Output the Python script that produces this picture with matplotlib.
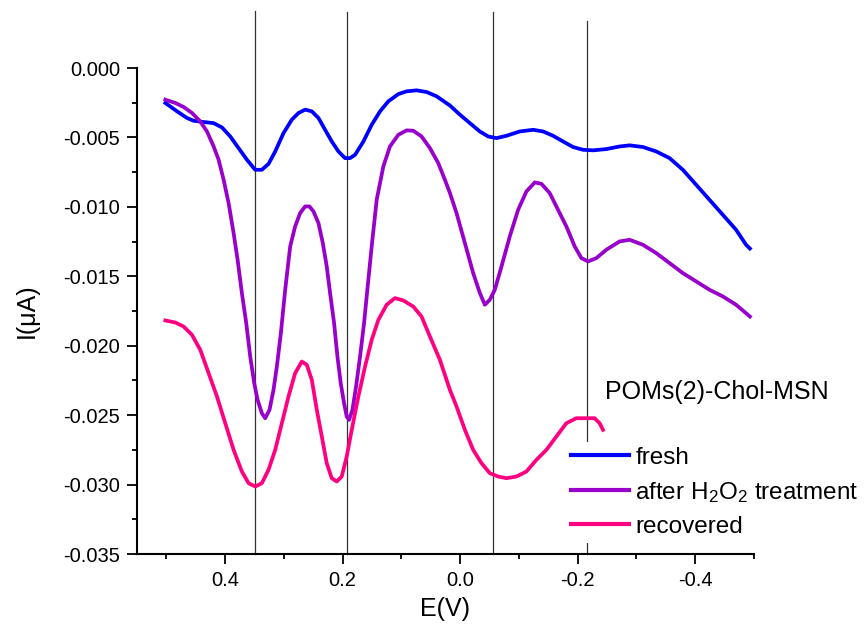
import matplotlib
matplotlib.use("Agg")
import matplotlib.pyplot as plt
from matplotlib.ticker import MultipleLocator, FormatStrFormatter

plt.rcParams['font.family'] = ['Liberation Sans', 'DejaVu Sans']
plt.rcParams['axes.unicode_minus'] = False
plt.rcParams['mathtext.fontset'] = 'custom'
plt.rcParams['mathtext.rm'] = 'Liberation Sans'
plt.rcParams['mathtext.it'] = 'Liberation Sans:italic'

# ---- data (E in V, I in uA) ----
fresh_E = [0.5017, 0.4819, 0.4649, 0.4536, 0.4366, 0.4196, 0.4054, 0.3913, 0.3771, 0.3629,
           0.3488, 0.3375, 0.3261, 0.3148, 0.3007, 0.2865, 0.2752, 0.2638, 0.2525, 0.2412,
           0.2299, 0.2185, 0.2072, 0.1959, 0.1874, 0.1789, 0.1647, 0.1506, 0.1364, 0.1223,
           0.1053, 0.0911, 0.0741, 0.0571, 0.0401, 0.0175, 0.0005, -0.0165, -0.0335, -0.0476,
           -0.0618, -0.0788, -0.1014, -0.1241, -0.1411, -0.1580, -0.1750, -0.1920, -0.2090, -0.2260,
           -0.2487, -0.2713, -0.2883, -0.3110, -0.3336, -0.3563, -0.3789, -0.4016, -0.4242, -0.4469,
           -0.4695, -0.4865, -0.4930]
fresh_I = [-0.00252, -0.00312, -0.00360, -0.00380, -0.00389, -0.00397, -0.00428, -0.00493, -0.00577, -0.00661,
           -0.00733, -0.00733, -0.00690, -0.00601, -0.00469, -0.00372, -0.00324, -0.00300, -0.00312, -0.00360,
           -0.00445, -0.00529, -0.00601, -0.00649, -0.00649, -0.00625, -0.00529, -0.00409, -0.00312, -0.00240,
           -0.00188, -0.00168, -0.00161, -0.00173, -0.00204, -0.00270, -0.00336, -0.00397, -0.00457, -0.00493,
           -0.00505, -0.00488, -0.00457, -0.00445, -0.00457, -0.00488, -0.00529, -0.00569, -0.00589, -0.00593,
           -0.00584, -0.00565, -0.00557, -0.00569, -0.00601, -0.00649, -0.00733, -0.00841, -0.00949, -0.01057,
           -0.01165, -0.01273, -0.01300]

h2o2_E = [0.5017, 0.4847, 0.4706, 0.4564, 0.4423, 0.4309, 0.4196, 0.4111, 0.4026, 0.3941,
          0.3856, 0.3788, 0.3715, 0.3641, 0.3573, 0.3505, 0.3448, 0.3375, 0.3318, 0.3245,
          0.3177, 0.3120, 0.3052, 0.2978, 0.2893, 0.2809, 0.2724, 0.2639, 0.2565, 0.2497,
          0.2412, 0.2338, 0.2271, 0.2214, 0.2146, 0.2089, 0.2033, 0.1976, 0.1931, 0.1891,
          0.1834, 0.1772, 0.1704, 0.1636, 0.1580, 0.1506, 0.1421, 0.1308, 0.1195, 0.1053,
          0.0911, 0.0798, 0.0657, 0.0515, 0.0373, 0.0260, 0.0175, 0.0062, -0.0080, -0.0221,
          -0.0335, -0.0420, -0.0504, -0.0589, -0.0703, -0.0844, -0.0986, -0.1127, -0.1269, -0.1382,
          -0.1524, -0.1665, -0.1807, -0.1949, -0.2062, -0.2175, -0.2317, -0.2487, -0.2713, -0.2883,
          -0.3109, -0.3336, -0.3563, -0.3789, -0.4016, -0.4242, -0.4469, -0.4695, -0.4865, -0.4930]
h2o2_I = [-0.00228, -0.00252, -0.00281, -0.00324, -0.00385, -0.00457, -0.00565, -0.00661, -0.00805, -0.00973,
          -0.01189, -0.01381, -0.01621, -0.01837, -0.02078, -0.02270, -0.02390, -0.02486, -0.02522, -0.02462,
          -0.02318, -0.02150, -0.01910, -0.01597, -0.01285, -0.01141, -0.01045, -0.00997, -0.00997, -0.01033,
          -0.01117, -0.01261, -0.01429, -0.01621, -0.01837, -0.02078, -0.02270, -0.02414, -0.02510, -0.02534,
          -0.02462, -0.02294, -0.02078, -0.01837, -0.01597, -0.01285, -0.00949, -0.00709, -0.00565, -0.00481,
          -0.00449, -0.00452, -0.00493, -0.00577, -0.00685, -0.00805, -0.00900, -0.01045, -0.01261, -0.01477,
          -0.01621, -0.01705, -0.01669, -0.01597, -0.01429, -0.01213, -0.01021, -0.00889, -0.00824, -0.00834,
          -0.00901, -0.01021, -0.01141, -0.01285, -0.01369, -0.01393, -0.01369, -0.01309, -0.01249, -0.01237,
          -0.01273, -0.01333, -0.01405, -0.01477, -0.01537, -0.01597, -0.01645, -0.01705, -0.01766, -0.01790]

rec_E = [0.5017, 0.4847, 0.4706, 0.4564, 0.4423, 0.4281, 0.4139, 0.3998, 0.3856, 0.3715,
         0.3601, 0.3488, 0.3375, 0.3262, 0.3148, 0.3035, 0.2922, 0.2809, 0.2695, 0.2610,
         0.2525, 0.2440, 0.2355, 0.2271, 0.2186, 0.2101, 0.2016, 0.1931, 0.1846, 0.1733,
         0.1619, 0.1506, 0.1393, 0.1251, 0.1110, 0.0968, 0.0798, 0.0657, 0.0515, 0.0345,
         0.0175, 0.0062, -0.0080, -0.0221, -0.0363, -0.0504, -0.0646, -0.0788, -0.0958, -0.1127,
         -0.1297, -0.1467, -0.1637, -0.1807, -0.1977, -0.2147, -0.2288, -0.2373, -0.2430]
rec_I = [-0.01818, -0.01833, -0.01862, -0.01922, -0.02030, -0.02198, -0.02366, -0.02558, -0.02750, -0.02906,
         -0.02990, -0.03014, -0.02990, -0.02894, -0.02750, -0.02558, -0.02366, -0.02198, -0.02114, -0.02138,
         -0.02246, -0.02462, -0.02654, -0.02846, -0.02954, -0.02978, -0.02942, -0.02798, -0.02606, -0.02366,
         -0.02150, -0.01958, -0.01814, -0.01705, -0.01657, -0.01674, -0.01718, -0.01790, -0.01934, -0.02102,
         -0.02318, -0.02438, -0.02606, -0.02750, -0.02846, -0.02918, -0.02942, -0.02954, -0.02942, -0.02906,
         -0.02822, -0.02750, -0.02654, -0.02558, -0.02522, -0.02522, -0.02522, -0.02558, -0.02606]

series_labels = ['fresh', r'after H$_2$O$_2$ treatment', 'recovered']
series_colors = ['#0000FF', '#9900CC', '#FF0080']

ref_E = [0.350, 0.192, -0.056, -0.215]
ref_top = [0.0041, 0.0040, 0.0040, 0.0034]

legend_title = 'POMs(2)-Chol-MSN'

# ---- plot ----
fig = plt.figure(figsize=(8.67, 6.3), dpi=100)
ax = fig.add_axes([137/867, 1-554/630, 617/867, 486/630])

for E, I, lab, c in zip([fresh_E, h2o2_E, rec_E], [fresh_I, h2o2_I, rec_I],
                        series_labels, series_colors):
    ax.plot(E, I, color=c, lw=2.7, label=lab, solid_joinstyle='round')

for xe, yt in zip(ref_E, ref_top):
    ax.plot([xe, xe], [-0.035, yt], color='#333333', lw=0.9, clip_on=False, zorder=1)

ax.set_xlim(0.55, -0.5)
ax.set_ylim(-0.035, 0.0)

ax.spines['top'].set_visible(False)
ax.spines['right'].set_visible(False)
for s in ['left', 'bottom']:
    ax.spines[s].set_linewidth(1.5)

ax.xaxis.set_major_locator(MultipleLocator(0.2))
ax.xaxis.set_minor_locator(MultipleLocator(0.1))
ax.yaxis.set_major_locator(MultipleLocator(0.005))
ax.yaxis.set_minor_locator(MultipleLocator(0.0025))
ax.xaxis.set_major_formatter(FormatStrFormatter('%.1f'))
ax.yaxis.set_major_formatter(FormatStrFormatter('%.3f'))
ax.tick_params(which='major', length=7, width=1.3, labelsize=14.5, pad=5)
ax.tick_params(which='minor', length=3.5, width=1.3)

ax.set_xlabel('E(V)', fontsize=18)
ax.set_ylabel('I(μA)', fontsize=18)
ax.xaxis.set_label_coords(0.5, -0.088)
ax.yaxis.set_label_coords(-0.16, 0.5)

leg = ax.legend(loc='upper left', bbox_to_anchor=(566/867, 1-442/630),
                bbox_transform=fig.transFigure, fontsize=17.5, frameon=True,
                handlelength=2.4, handletextpad=0.25, labelspacing=0.45,
                borderpad=0.2, borderaxespad=0)
leg.get_frame().set_facecolor('white')
leg.get_frame().set_edgecolor('none')
leg.get_frame().set_alpha(1)
for line in leg.get_lines():
    line.set_linewidth(3)

fig.text(605/867, 1-392/630, legend_title, fontsize=18, ha='left', va='center')

fig.savefig('out.png', dpi=100)
